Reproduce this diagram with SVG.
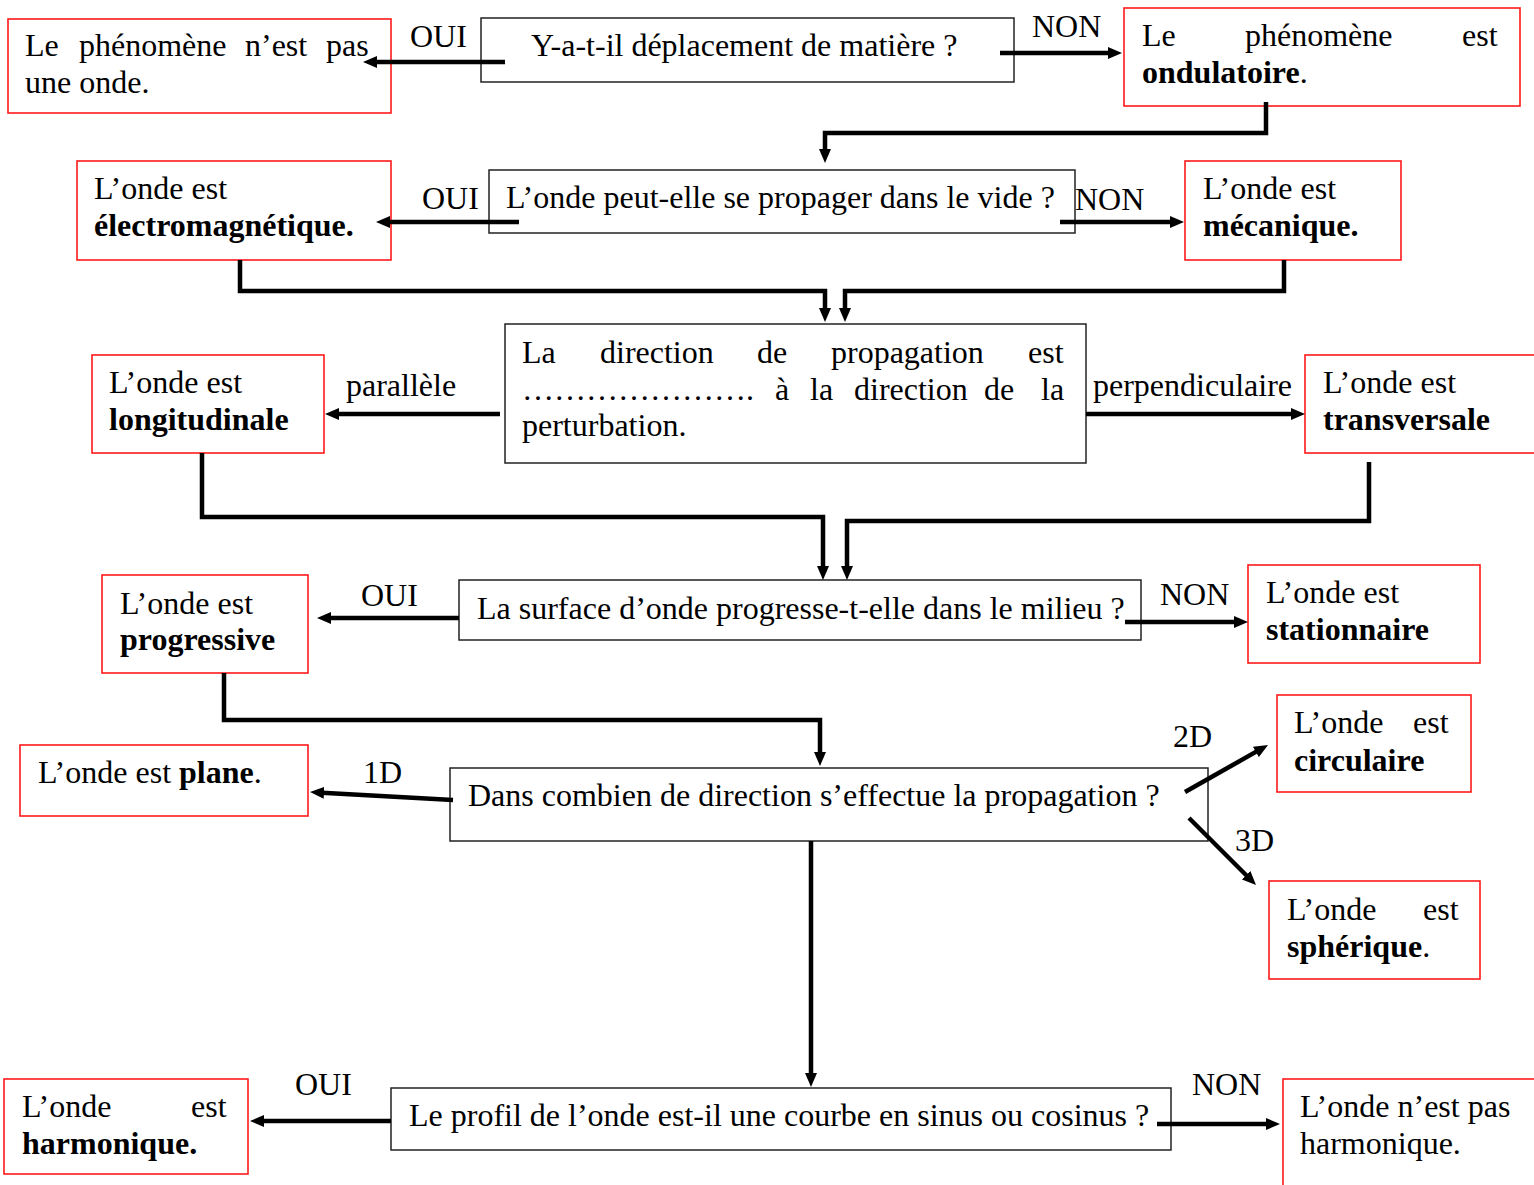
<svg xmlns="http://www.w3.org/2000/svg" width="1534" height="1185" viewBox="0 0 1534 1185">
<style>
text{font-family:"Liberation Serif","Times New Roman",serif;font-size:32px;fill:#000}
.b{font-weight:bold}
.r{fill:#fff;stroke:#ff1a1a;stroke-width:1.6}
.q{fill:#fff;stroke:#222;stroke-width:1.5}
.c{fill:none;stroke:#000;stroke-width:4.5;stroke-linejoin:miter}
</style>
<defs>
<marker id="ah" viewBox="0 0 14 12" refX="2" refY="6" markerWidth="14" markerHeight="12" markerUnits="userSpaceOnUse" orient="auto">
<path d="M0,0 L14,6 L0,12 z" fill="#000"/>
</marker>
</defs>
<rect width="1534" height="1185" fill="#fff"/>

<g id="n-pas-onde"><rect class="r" x="8" y="19" width="383" height="94"/>
<text y="56"><tspan x="25">Le</tspan><tspan x="79">phénomène</tspan><tspan x="245">n’est</tspan><tspan x="326">pas</tspan></text>
<text x="25" y="93">une onde.</text></g>

<g id="q1"><rect class="q" x="481" y="18" width="533" height="64"/>
<text x="531" y="56">Y-a-t-il déplacement de matière ?</text></g>

<g id="n-ondulatoire"><rect class="r" x="1124" y="8" width="396" height="98"/>
<text y="46"><tspan x="1142">Le</tspan><tspan x="1245">phénomène</tspan><tspan x="1462">est</tspan></text>
<text x="1142" y="83"><tspan class="b">ondulatoire</tspan>.</text></g>

<g id="n-electro"><rect class="r" x="77" y="161" width="314" height="99"/>
<text x="94" y="199">L’onde est</text>
<text x="94" y="236" class="b">électromagnétique.</text></g>

<g id="q2"><rect class="q" x="489" y="170" width="586" height="63"/>
<text x="506" y="208">L’onde peut-elle se propager dans le vide ?</text></g>

<g id="n-meca"><rect class="r" x="1185" y="161" width="216" height="99"/>
<text x="1203" y="199">L’onde est</text>
<text x="1203" y="236" class="b">mécanique.</text></g>

<g id="q3"><rect class="q" x="505" y="324" width="581" height="139"/>
<text y="363"><tspan x="522">La</tspan><tspan x="600">direction</tspan><tspan x="757">de</tspan><tspan x="831">propagation</tspan><tspan x="1028">est</tspan></text>
<text y="400"><tspan x="522">………………….</tspan><tspan x="775">à</tspan><tspan x="810">la</tspan><tspan x="854">direction</tspan><tspan x="984">de</tspan><tspan x="1041">la</tspan></text>
<text x="522" y="436">perturbation.</text></g>

<g id="n-longi"><rect class="r" x="92" y="355" width="232" height="98"/>
<text x="109" y="393">L’onde est</text>
<text x="109" y="430" class="b">longitudinale</text></g>

<g id="n-trans"><rect class="r" x="1305" y="355" width="240" height="98"/>
<text x="1323" y="393">L’onde est</text>
<text x="1323" y="430" class="b">transversale</text></g>

<g id="q4"><rect class="q" x="459" y="580" width="682" height="60"/>
<text x="477" y="619">La surface d’onde progresse-t-elle dans le milieu ?</text></g>

<g id="n-prog"><rect class="r" x="102" y="575" width="206" height="98"/>
<text x="120" y="614">L’onde est</text>
<text x="120" y="650" class="b">progressive</text></g>

<g id="n-stat"><rect class="r" x="1248" y="565" width="232" height="98"/>
<text x="1266" y="603">L’onde est</text>
<text x="1266" y="640" class="b">stationnaire</text></g>

<g id="n-plane"><rect class="r" x="20" y="745" width="288" height="71"/>
<text x="38" y="783">L’onde est <tspan class="b">plane</tspan>.</text></g>

<g id="q5"><rect class="q" x="450" y="768" width="758" height="73"/>
<text x="468" y="806">Dans combien de direction s’effectue la propagation ?</text></g>

<g id="n-circ"><rect class="r" x="1277" y="695" width="194" height="97"/>
<text y="733"><tspan x="1294">L’onde</tspan><tspan x="1413">est</tspan></text>
<text x="1294" y="771" class="b">circulaire</text></g>

<g id="n-sphere"><rect class="r" x="1269" y="881" width="211" height="98"/>
<text y="920"><tspan x="1287">L’onde</tspan><tspan x="1423">est</tspan></text>
<text x="1287" y="957"><tspan class="b">sphérique</tspan>.</text></g>

<g id="q6"><rect class="q" x="391" y="1088" width="780" height="62"/>
<text x="409" y="1126">Le profil de l’onde est-il une courbe en sinus ou cosinus ?</text></g>

<g id="n-harm"><rect class="r" x="4" y="1079" width="244" height="95"/>
<text y="1117"><tspan x="22">L’onde</tspan><tspan x="191">est</tspan></text>
<text x="22" y="1154" class="b">harmonique.</text></g>

<g id="n-pas-harm"><rect class="r" x="1283" y="1079" width="270" height="120"/>
<text x="1300" y="1117">L’onde n’est pas</text>
<text x="1300" y="1154">harmonique.</text></g>

<g id="connectors">
<path class="c" marker-end="url(#ah)" d="M505,62 H375"/>
<path class="c" marker-end="url(#ah)" d="M1000,53 H1110"/>
<path class="c" marker-end="url(#ah)" d="M1266,102 V133 H825 V151"/>
<path class="c" marker-end="url(#ah)" d="M519,222 H388"/>
<path class="c" marker-end="url(#ah)" d="M1060,222 H1172"/>
<path class="c" marker-end="url(#ah)" d="M240,260 V291 H825 V310"/>
<path class="c" marker-end="url(#ah)" d="M1284,260 V291 H845 V310"/>
<path class="c" marker-end="url(#ah)" d="M500,414 H337"/>
<path class="c" marker-end="url(#ah)" d="M1086,414 H1293"/>
<path class="c" marker-end="url(#ah)" d="M202,453 V517 H823 V568"/>
<path class="c" marker-end="url(#ah)" d="M1369,462 V521 H847 V568"/>
<path class="c" marker-end="url(#ah)" d="M459,618 H329"/>
<path class="c" marker-end="url(#ah)" d="M1125,622 H1236"/>
<path class="c" marker-end="url(#ah)" d="M224,673 V720 H820 V754"/>
<path class="c" marker-end="url(#ah)" d="M453,800 L322,792.7"/>
<path class="c" marker-end="url(#ah)" d="M1185,792 L1257.6,750.9"/>
<path class="c" marker-end="url(#ah)" d="M1189,818 L1247.5,876.5"/>
<path class="c" marker-end="url(#ah)" d="M811,841 V1075"/>
<path class="c" marker-end="url(#ah)" d="M391,1121 H262"/>
<path class="c" marker-end="url(#ah)" d="M1157,1124 H1268"/>
</g>

<g id="labels">
<text x="410" y="47">OUI</text>
<text x="1032" y="37">NON</text>
<text x="422" y="209">OUI</text>
<text x="1075" y="210">NON</text>
<text x="346" y="396">parallèle</text>
<text x="1093" y="396">perpendiculaire</text>
<text x="361" y="606">OUI</text>
<text x="1160" y="605">NON</text>
<text x="363" y="783">1D</text>
<text x="1173" y="747">2D</text>
<text x="1235" y="851">3D</text>
<text x="295" y="1095">OUI</text>
<text x="1192" y="1095">NON</text>
</g>
</svg>
